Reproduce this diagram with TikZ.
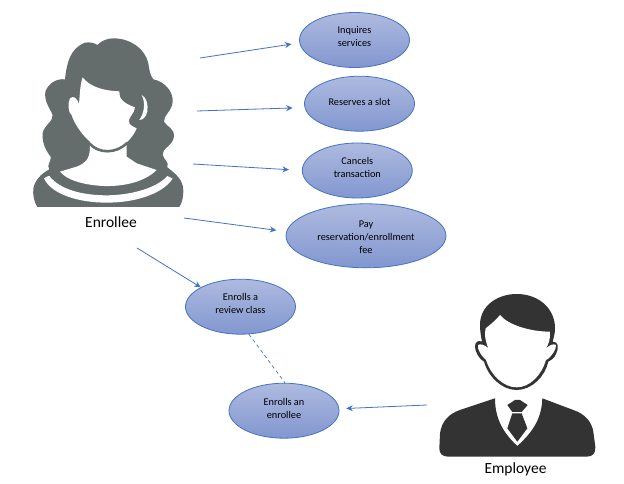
\documentclass[tikz,border=0pt]{standalone}
\usepackage{fontspec}
\setmainfont{Carlito}
\usetikzlibrary{arrows.meta,shapes.geometric}
\definecolor{lineblue}{HTML}{4472C4}
\definecolor{topblue}{HTML}{AEBADF}
\definecolor{botblue}{HTML}{8297D0}
\definecolor{womangray}{HTML}{656C6C}
\definecolor{mangray}{HTML}{333333}
\newsavebox{\ucbox}
\newcommand{\uclines}[2]{\sbox{\ucbox}{\begin{tabular}{@{}c@{}}#2\end{tabular}}%
  \raisebox{#1}[\dimexpr\ht\ucbox+#1\relax][\dimexpr\dp\ucbox+#1\relax]{\usebox{\ucbox}}}
\tikzset{
  usecase/.style={ellipse,draw=lineblue,line width=0.8pt,top color=topblue,bottom color=botblue,
    inner sep=0pt,align=center,text=black,font=\fontsize{10.3}{13}\selectfont},
  conn/.style={draw=lineblue,line width=0.8pt,-{Stealth[length=6.5pt,width=6pt]}},
  dashconn/.style={draw=lineblue,line width=0.7pt,dash pattern=on 3.5pt off 3pt},
  person/.style={font=\fontsize{15.5}{17}\selectfont,text=black,inner sep=0pt},
}
\begin{document}
\begin{tikzpicture}[x=1pt,y=-1pt]
\useasboundingbox (0,0) rectangle (624,484);
\fill[white] (0,0) rectangle (624,484);

% Woman icon (coordinates are those of a 3x crop)
\begin{scope}[shift={(20,20)},x=0.3333pt,y=-0.3333pt]
\fill[womangray] (280,55) .. controls (330,55) and (375,85) .. (385,130)
  .. controls (388,150) and (390,165) .. (400,178)
  .. controls (435,185) and (460,215) .. (458,245)
  .. controls (456,275) and (430,285) .. (432,305)
  .. controls (440,320) and (464,325) .. (462,350)
  .. controls (458,378) and (425,385) .. (428,405)
  .. controls (432,420) and (448,425) .. (442,442)
  .. controls (465,460) and (492,480) .. (490,515)
  .. controls (490,535) and (485,550) .. (478,561)
  -- (52,561)
  .. controls (42,545) and (38,525) .. (40,505)
  .. controls (45,480) and (65,460) .. (88,448)
  .. controls (78,435) and (95,425) .. (92,410)
  .. controls (80,395) and (65,370) .. (68,340)
  .. controls (72,315) and (100,305) .. (98,285)
  .. controls (90,265) and (72,245) .. (76,215)
  .. controls (85,190) and (110,175) .. (135,178)
  .. controls (140,130) and (150,85) .. (195,68)
  .. controls (212,65) and (225,70) .. (232,75)
  .. controls (245,62) and (262,55) .. (280,55) -- cycle;
% face and neck
\fill[white] (188,172) .. controls (205,195) and (240,212) .. (298,214)
  .. controls (296,235) and (310,250) .. (345,262)
  .. controls (345,280) and (320,295) .. (328,310)
  .. controls (335,320) and (345,322) .. (350,325)
  .. controls (345,340) and (332,355) .. (320,368)
  -- (320,410) -- (350,430) -- (410,450)
  .. controls (370,490) and (300,500) .. (250,498)
  .. controls (190,495) and (140,480) .. (120,455)
  -- (170,440) .. controls (195,430) and (208,420) .. (210,385)
  -- (210,365)
  .. controls (185,345) and (160,305) .. (155,285)
  .. controls (145,280) and (142,250) .. (150,235)
  .. controls (160,225) and (172,235) .. (177,252)
  .. controls (180,220) and (180,195) .. (188,172) -- cycle;
\draw[womangray,line width=2.6pt] (208,370) .. controls (235,402) and (290,402) .. (322,368);
% right ear sliver
\fill[white] (365,225) .. controls (380,232) and (385,255) .. (382,275)
  .. controls (378,292) and (368,300) .. (358,300)
  .. controls (372,280) and (378,250) .. (365,225) -- cycle;
% collar band
\fill[white] (72,475) .. controls (90,465) and (82,470) .. (88,468)
  .. controls (120,510) and (190,526) .. (260,526)
  .. controls (330,526) and (410,505) .. (442,468)
  -- (458,476)
  .. controls (425,525) and (340,548) .. (260,548)
  .. controls (180,548) and (95,525) .. (72,475) -- cycle;
\end{scope}

% Man icon (coordinates are those of a 3x crop)
\begin{scope}[shift={(420,280)},x=0.3333pt,y=-0.3333pt]
\fill[mangray] (180,135) .. controls (180,75) and (235,42) .. (290,42)
  .. controls (360,42) and (408,90) .. (405,150)
  .. controls (404,165) and (400,175) .. (398,185)
  .. controls (415,185) and (418,200) .. (408,222)
  .. controls (402,238) and (392,240) .. (385,245)
  .. controls (375,290) and (335,330) .. (290,330)
  .. controls (245,330) and (205,290) .. (192,245)
  .. controls (178,238) and (165,215) .. (165,200)
  .. controls (165,185) and (175,180) .. (186,185)
  .. controls (182,165) and (180,150) .. (180,135) -- cycle;
\fill[white] (240,105) .. controls (265,135) and (330,155) .. (390,155)
  .. controls (392,175) and (385,195) .. (378,205)
  .. controls (390,195) and (400,190) .. (408,195)
  .. controls (410,205) and (395,232) .. (378,240)
  .. controls (365,285) and (330,322) .. (290,322)
  .. controls (250,322) and (212,285) .. (198,240)
  .. controls (185,230) and (170,205) .. (174,195)
  .. controls (182,190) and (195,195) .. (205,205)
  .. controls (195,180) and (193,160) .. (197,145)
  .. controls (210,135) and (228,120) .. (240,105) -- cycle;
% body
\fill[mangray] (225,355) -- (120,390) .. controls (85,402) and (65,425) .. (60,460)
  -- (58,505) .. controls (58,522) and (68,530) .. (85,530)
  -- (500,530) .. controls (518,530) and (528,520) .. (526,500)
  -- (520,455) .. controls (515,425) and (495,402) .. (460,390)
  -- (367,355)
  .. controls (365,410) and (345,450) .. (292,498)
  .. controls (245,455) and (225,410) .. (225,355) -- cycle;
% tie
\fill[mangray] (262,375) -- (285,360) -- (300,360) -- (323,375) -- (305,396) -- (277,396) -- cycle;
\fill[mangray] (277,400) -- (305,400) -- (322,445) -- (292,485) -- (262,445) -- cycle;
\end{scope}

% Use cases
\node[usecase,minimum width=110pt,minimum height=55pt] (inq) at (354.5,40) {\uclines{3pt}{Inquires\\services}};
\node[usecase,minimum width=110pt,minimum height=55pt] (res) at (359.5,103.7) {\uclines{1pt}{Reserves a slot}};
\node[usecase,minimum width=110pt,minimum height=55pt] (can) at (357.3,170.5) {\uclines{2pt}{Cancels\\transaction}};
\node[usecase,minimum width=160pt,minimum height=64pt] (pay) at (366,235.8) {\uclines{-2.5pt}{Pay\\reservation/enrollment\\fee}};
\node[usecase,minimum width=110pt,minimum height=55pt] (rev) at (240.5,306.7) {\uclines{2.5pt}{Enrolls a\\review class}};
\node[usecase,minimum width=110pt,minimum height=55pt] (enr) at (284,410.7) {\uclines{1pt}{Enrolls an\\enrollee}};

% Labels
\node[person] (enrollee) at (111,222) {Enrollee};
\node[person] (employee) at (515.5,469) {Employee};

% Free ends of connectors
\coordinate (a1) at (200,58);
\coordinate (a2) at (197,111);
\coordinate (a3) at (193,164);
\coordinate (a4) at (184,218);
\coordinate (a5) at (137,248);
\coordinate (a6) at (427,405);

\draw[conn,shorten >=8pt] (a1) -- (inq.183.6);
\draw[conn,shorten >=12pt] (a2) -- (res.184);
\draw[conn,shorten >=13pt] (a3) -- (can.180);
\draw[conn,shorten >=10pt] (a4) -- (pay.177.4);
\draw[conn] (a5) -- (rev.154);
\draw[conn,shorten >=7pt] (a6) -- (enr.2.8);
\draw[dashconn] (rev.-73) -- (enr.88);
\end{tikzpicture}
\end{document}
